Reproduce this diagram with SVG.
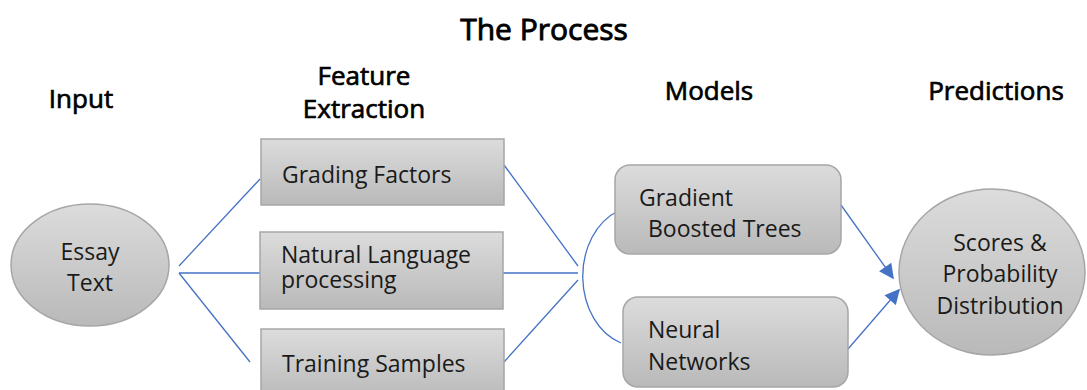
<svg xmlns="http://www.w3.org/2000/svg" width="1087" height="390" viewBox="0 0 1087 390">
  <defs>
    <linearGradient id="grayFill" x1="0" y1="0" x2="0" y2="1">
      <stop offset="0" stop-color="#dcdcdc"/>
      <stop offset="1" stop-color="#b9b9b9"/>
    </linearGradient>
    <marker id="arrow" viewBox="0 0 10 10" refX="9" refY="5" markerWidth="17" markerHeight="15" orient="auto" markerUnits="userSpaceOnUse">
      <path d="M0,0 L10,5 L0,10 z" fill="#4472c4"/>
    </marker>
    <style>
      .shape { fill: url(#grayFill); stroke: #a6a6a6; stroke-width: 1.5; }
      .label { font-family: "Open Sans", "Noto Sans", sans-serif; font-size: 23px; fill: #1a1a1a; }
      .head { font-family: "Open Sans", "Noto Sans", sans-serif; font-size: 26px; fill: #000; stroke: #000; stroke-width: 0.7; }
      .title { font-family: "Open Sans", "Noto Sans", sans-serif; font-size: 30px; fill: #000; stroke: #000; stroke-width: 0.9; }
      .link { fill: none; stroke: #4472c4; stroke-width: 1.3; }
    </style>
  </defs>

  <rect width="1087" height="390" fill="#fff"/>

  <!-- headings -->
  <text class="title" x="544" y="40" text-anchor="middle">The Process</text>
  <text class="head" x="81" y="108" text-anchor="middle">Input</text>
  <text class="head" x="364" y="85" text-anchor="middle">Feature</text>
  <text class="head" x="364" y="118" text-anchor="middle">Extraction</text>
  <text class="head" x="709" y="100" text-anchor="middle">Models</text>
  <text class="head" x="996" y="100" text-anchor="middle">Predictions</text>

  <!-- connectors -->
  <g id="connectors">
    <path class="link" d="M179,266 L260,179"/>
    <path class="link" d="M179,273 L260,273"/>
    <path class="link" d="M179,273 L250,362"/>
    <path class="link" d="M504,165 L578,266"/>
    <path class="link" d="M503,273 L578,273"/>
    <path class="link" d="M504,362 L578,280"/>
    <path class="link" d="M618,211 A55,70 0 0 0 621,343"/>
    <path class="link" d="M841,205 L893,278" marker-end="url(#arrow)"/>
    <path class="link" d="M848,349 L899,290" marker-end="url(#arrow)"/>
  </g>

  <g id="essay-text">
    <ellipse class="shape" cx="90" cy="265" rx="79" ry="61"/>
    <text class="label" x="90" y="260" text-anchor="middle">Essay</text>
    <text class="label" x="90" y="291" text-anchor="middle">Text</text>
  </g>

  <g id="grading-factors">
    <rect class="shape" x="261" y="139" width="243" height="66"/>
    <text class="label" x="282" y="183">Grading Factors</text>
  </g>

  <g id="nlp">
    <rect class="shape" x="260" y="232" width="243" height="77"/>
    <text class="label" x="281" y="263">Natural Language</text>
    <text class="label" x="281" y="288">processing</text>
  </g>

  <g id="training-samples">
    <rect class="shape" x="261" y="329" width="243" height="70"/>
    <text class="label" x="282" y="372">Training Samples</text>
  </g>

  <g id="gradient-boosted-trees">
    <rect class="shape" x="615" y="165" width="226" height="89" rx="15"/>
    <text class="label" x="639" y="206">Gradient</text>
    <text class="label" x="648" y="237">Boosted Trees</text>
  </g>

  <g id="neural-networks">
    <rect class="shape" x="623" y="297" width="225" height="90" rx="15"/>
    <text class="label" x="648" y="338">Neural</text>
    <text class="label" x="648" y="370">Networks</text>
  </g>

  <g id="scores">
    <ellipse class="shape" cx="992" cy="272" rx="93" ry="83"/>
    <text class="label" x="1000" y="251" text-anchor="middle">Scores &amp;</text>
    <text class="label" x="1000" y="282" text-anchor="middle">Probability</text>
    <text class="label" x="1000" y="314" text-anchor="middle">Distribution</text>
  </g>
</svg>
